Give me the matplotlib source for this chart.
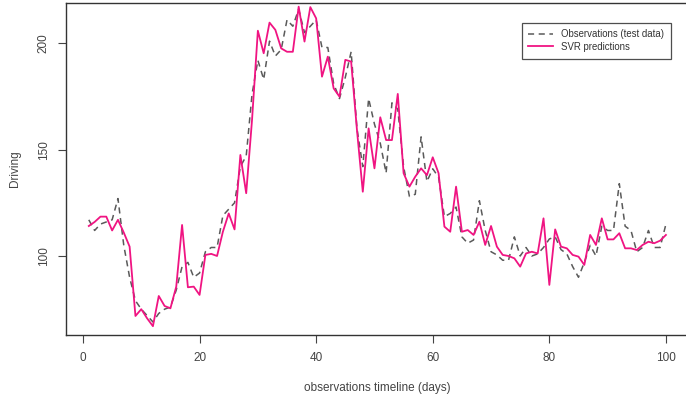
import matplotlib.pyplot as plt

days = list(range(1, 101))

observations = [117, 112, 115, 116, 117, 127, 105, 90, 79, 75,
                72, 69, 73, 75, 76, 84, 95, 97, 90, 92,
                102, 104, 104, 119, 122, 125, 142, 147, 176, 192,
                183, 201, 194, 197, 211, 208, 216, 205, 208, 211,
                198, 198, 181, 174, 184, 196, 160, 142, 174, 162,
                153, 139, 172, 169, 142, 128, 129, 156, 135, 141,
                137, 118.5, 120, 123, 109, 106, 107.5, 126, 112, 102,
                100.5, 98, 98, 109, 100, 104, 100, 101, 104, 108,
                109, 103, 101, 95, 90, 97, 105, 100, 114, 112,
                112, 134, 114, 112, 102, 104, 112, 104, 104, 115]

svr_pred = [114.1, 116, 118.5, 118.5, 112, 117, 111, 104.4, 71.8, 75,
            70.7, 67, 81.2, 76.5, 75.4, 85.6, 114.6, 85.3, 85.6, 81.7,
            100.5, 101, 100, 111.4, 120, 112.5, 147.5, 129.5, 164, 205.9,
            195.3, 209.7, 206.3, 197.6, 196, 196, 217.2, 200.8, 217, 211.7,
            184.3, 193.7, 178.8, 174.9, 192.2, 191.4, 159.2, 130.2, 160, 141.2,
            165.2, 154.5, 154.5, 176.2, 138.9, 132.6, 137.3, 141.2, 138, 146.4,
            138.9, 113.8, 111.4, 132.6, 111.4, 112.2, 109.9, 116.1, 105.2, 114.1,
            104.4, 100.5, 100, 98.9, 95, 101.2, 102, 101.2, 117.7, 86.4,
            112.5, 104.4, 103.6, 100.5, 99.7, 95.8, 109.9, 105.2, 117.7, 107.8,
            107.8, 110.7, 103.6, 103.6, 102.8, 105.2, 106.7, 106, 107.2, 109.9]

x_ticks = [0, 20, 40, 60, 80, 100]
y_ticks = [100, 150, 200]

plt.rcParams['font.family'] = ['Liberation Sans', 'DejaVu Sans']

fig = plt.figure(figsize=(6.86, 4.04), dpi=100)
ax = fig.add_axes([0.0958, 0.171, 0.9086, 0.8225])

ax.plot(days, observations, color='#5a5a5a', lw=1.1, ls=(0, (4, 3)),
        label='Observations (test data)')
ax.plot(days, svr_pred, color='#f01482', lw=1.3, label='SVR predictions')

ax.set_xlim(-2.96, 103.96)
ax.set_ylim(62.9, 219.1)
ax.set_xticks(x_ticks)
ax.set_yticks(y_ticks)
ax.set_yticklabels([str(t) for t in y_ticks], rotation=90, va='center')
ax.tick_params(direction='out', length=5.5, width=0.8, colors='#444444',
               labelsize=8.5, pad=6)
ax.tick_params(axis='x', pad=7)

for s in ax.spines.values():
    s.set_color('#333333')
    s.set_linewidth(1.0)

ax.set_xlabel('observations timeline (days)', fontsize=8.5, color='#444444', labelpad=13)
ax.set_ylabel('Driving', fontsize=8.5, color='#444444', labelpad=12)

leg = ax.legend(loc='upper left', bbox_to_anchor=(0.7605, 0.9438),
                bbox_transform=fig.transFigure, borderaxespad=0,
                fancybox=False, edgecolor='#222222', fontsize=6.9,
                handlelength=2.6, handletextpad=0.8, labelspacing=0.25,
                borderpad=0.7)
leg.get_frame().set_linewidth(0.9)
for t in leg.get_texts():
    t.set_color('#333333')

fig.savefig('out.png', dpi=100)
